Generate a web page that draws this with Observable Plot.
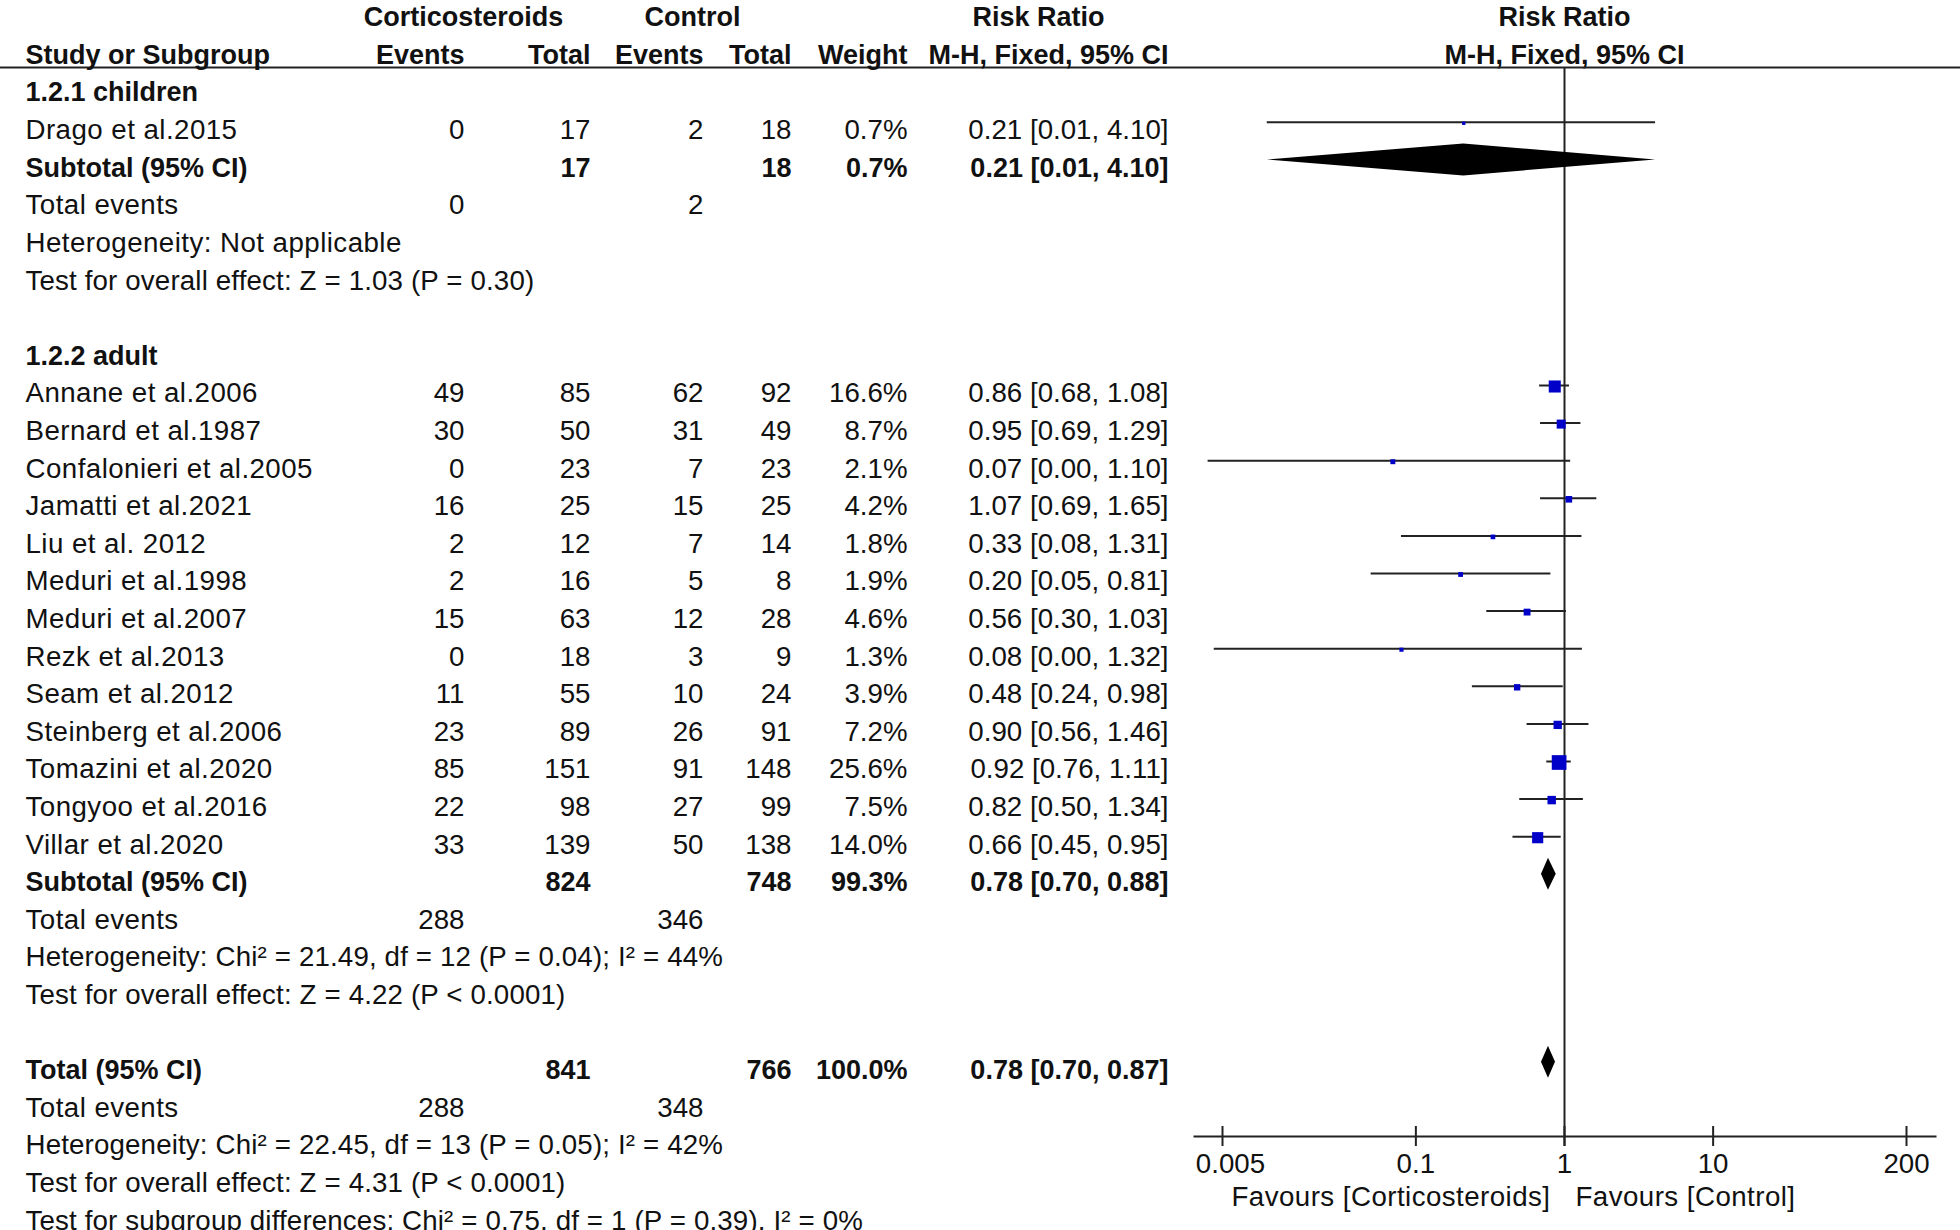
<!DOCTYPE html>
<html>
<head>
<meta charset="utf-8">
<script src="https://cdn.jsdelivr.net/npm/d3@7"></script>
<script src="https://cdn.jsdelivr.net/npm/@observablehq/plot@0.6"></script>
<style>
  body { margin: 0; background: #fff; }
  #chart { position: relative; width: 1960px; height: 1230px; overflow: hidden; background: #fff; }
  #chart svg { position: absolute; left: 0; top: 0; }
</style>
</head>
<body>
<div id="chart"></div>
<script>
// ---------------- data ----------------
const headerTop = ["Corticosteroids", "Control", "Risk Ratio"];
const headerCols = ["Study or Subgroup", "Events", "Total", "Events", "Total", "Weight", "M-H, Fixed, 95% CI"];
const forestHeader = ["Risk Ratio", "M-H, Fixed, 95% CI"];

const groupLabels = ["1.2.1 children", "1.2.2 adult"];
const studyNames = [
  "Drago et al.2015",
  "Annane et al.2006", "Bernard et al.1987", "Confalonieri et al.2005", "Jamatti et al.2021",
  "Liu et al. 2012", "Meduri et al.1998", "Meduri et al.2007", "Rezk et al.2013",
  "Seam et al.2012", "Steinberg et al.2006", "Tomazini et al.2020", "Tongyoo et al.2016",
  "Villar et al.2020"
];
const studyGroup = [0, 1, 1, 1, 1, 1, 1, 1, 1, 1, 1, 1, 1, 1];
const csEvents  = [0, 49, 30, 0, 16, 2, 2, 15, 0, 11, 23, 85, 22, 33];
const csTotal   = [17, 85, 50, 23, 25, 12, 16, 63, 18, 55, 89, 151, 98, 139];
const ctlEvents = [2, 62, 31, 7, 15, 7, 5, 12, 3, 10, 26, 91, 27, 50];
const ctlTotal  = [18, 92, 49, 23, 25, 14, 8, 28, 9, 24, 91, 148, 99, 138];
const weights   = [0.7, 16.6, 8.7, 2.1, 4.2, 1.8, 1.9, 4.6, 1.3, 3.9, 7.2, 25.6, 7.5, 14.0];
const rr        = [0.21, 0.86, 0.95, 0.07, 1.07, 0.33, 0.20, 0.56, 0.08, 0.48, 0.90, 0.92, 0.82, 0.66];
const rrLow     = [0.01, 0.68, 0.69, 0.004, 0.69, 0.08, 0.05, 0.30, 0.0044, 0.24, 0.56, 0.76, 0.50, 0.45];
const rrHigh    = [4.10, 1.08, 1.29, 1.10, 1.65, 1.31, 0.81, 1.03, 1.32, 0.98, 1.46, 1.11, 1.34, 0.95];

const pooledLabels   = ["Subtotal (95% CI)", "Subtotal (95% CI)", "Total (95% CI)"];
const pooledCsTotal  = [17, 824, 841];
const pooledCtlTotal = [18, 748, 766];
const pooledWeight   = [0.7, 99.3, 100.0];
const pooledRR       = [0.21, 0.78, 0.78];
const pooledLow      = [0.01, 0.70, 0.70];
const pooledHigh     = [4.10, 0.88, 0.87];
const totalEventsCs  = [0, 288, 288];
const totalEventsCtl = [2, 346, 348];
const heterogeneity = [
  "Heterogeneity: Not applicable",
  "Heterogeneity: Chi² = 21.49, df = 12 (P = 0.04); I² = 44%",
  "Heterogeneity: Chi² = 22.45, df = 13 (P = 0.05); I² = 42%"
];
const overallEffect = [
  "Test for overall effect: Z = 1.03 (P = 0.30)",
  "Test for overall effect: Z = 4.22 (P < 0.0001)",
  "Test for overall effect: Z = 4.31 (P < 0.0001)"
];
const subgroupTest = "Test for subgroup differences: Chi² = 0.75, df = 1 (P = 0.39), I² = 0%";

const axisTicks = [0.005, 0.1, 1, 10, 200];
const favourLabels = ["Favours [Corticosteroids]", "Favours [Control]"];

// ---------------- layout ----------------
const COL = {label: 25, csE: 464, csT: 590, ctlE: 703, ctlT: 791, wt: 907, ci: 1168};
const HEAD_TOP_X = [463, 692, 1038];
const ROW_H = 37.6, NROWS = 32;
const FONT = "'Liberation Sans', Arial, Helvetica, sans-serif";
const INK = "#111", LINE = "#222";
const FS = 27.7, FSB = 27;

const f2 = d3.format(".2f");
const fW = w => d3.format(".1f")(w) + "%";
const ciText = (r, l, h) => `${f2(r)} [${f2(l)}, ${f2(h)}]`;

// build table rows
const cells = [];
const studyMarks = [];
const pooledMarks = [];
const add = (row, col, text, anchor, bold) => cells.push({row, x: col, text: String(text), anchor, bold});

headerTop.forEach((t, i) => add(0, HEAD_TOP_X[i], t, "middle", true));
const colKeys = ["label", "csE", "csT", "ctlE", "ctlT", "wt", "ci"];
headerCols.forEach((t, i) => add(1, COL[colKeys[i]], t, i === 0 ? "start" : "end", true));

let r = 2;
const pooledRow = (k) => {
  add(r, COL.label, pooledLabels[k], "start", true);
  add(r, COL.csT, pooledCsTotal[k], "end", true);
  add(r, COL.ctlT, pooledCtlTotal[k], "end", true);
  add(r, COL.wt, fW(pooledWeight[k]), "end", true);
  add(r, COL.ci, ciText(pooledRR[k], pooledLow[k], pooledHigh[k]), "end", true);
  pooledMarks.push({row: r, rr: pooledRR[k], lo: pooledLow[k], hi: pooledHigh[k]});
  r++;
  add(r, COL.label, "Total events", "start", false);
  add(r, COL.csE, totalEventsCs[k], "end", false);
  add(r, COL.ctlE, totalEventsCtl[k], "end", false);
  r++;
  add(r, COL.label, heterogeneity[k], "start", false); r++;
  add(r, COL.label, overallEffect[k], "start", false); r++;
};
groupLabels.forEach((g, gi) => {
  add(r, COL.label, g, "start", true); r++;
  studyNames.forEach((name, i) => {
    if (studyGroup[i] !== gi) return;
    add(r, COL.label, name, "start", false);
    add(r, COL.csE, csEvents[i], "end", false);
    add(r, COL.csT, csTotal[i], "end", false);
    add(r, COL.ctlE, ctlEvents[i], "end", false);
    add(r, COL.ctlT, ctlTotal[i], "end", false);
    add(r, COL.wt, fW(weights[i]), "end", false);
    add(r, COL.ci, ciText(rr[i], rrLow[i], rrHigh[i]), "end", false);
    studyMarks.push({row: r, rr: rr[i], lo: rrLow[i], hi: rrHigh[i], w: weights[i]});
    r++;
  });
  pooledRow(gi);
  r++;
});
pooledRow(2);
add(r, COL.label, subgroupTest, "start", false);

// diamond vertices
const DIA_H = 16 / ROW_H;
const diamondPts = pooledMarks.flatMap((p, k) => [
  {id: k, x: p.lo, y1: p.row, y2: p.row},
  {id: k, x: p.rr, y1: p.row - DIA_H, y2: p.row + DIA_H},
  {id: k, x: p.hi, y1: p.row, y2: p.row}
]);

// ---------------- table plot ----------------
const textMarks = [];
for (const a of ["start", "middle", "end"]) {
  for (const b of [false, true]) {
    const d = cells.filter(c => c.anchor === a && c.bold === b);
    if (!d.length) continue;
    textMarks.push(Plot.text(d, {
      x: "x", y: "row", text: "text", textAnchor: a, lineAnchor: "middle",
      fontWeight: b ? "bold" : "normal", fontSize: b ? FSB : FS, fill: INK
    }));
  }
}
const table = Plot.plot({
  width: 1960, height: 1230,
  marginTop: 67, marginLeft: 0, marginRight: 0, marginBottom: 0,
  x: {type: "linear", domain: [0, 1960], range: [0, 1960], axis: null},
  y: {domain: [0, NROWS], range: [17, 17 + ROW_H * NROWS], axis: null},
  style: {background: "transparent", fontFamily: FONT, overflow: "visible"},
  marks: [
    Plot.frame({anchor: "top", stroke: LINE, strokeWidth: 2}),
    ...textMarks
  ]
});

// ---------------- forest plot ----------------
const forest = Plot.plot({
  width: 1960, height: 1230,
  marginTop: 67, marginLeft: 1194, marginRight: 25, marginBottom: 94,
  x: {type: "log", domain: [0.005, 200], range: [1222, 1906], axis: null},
  y: {domain: [0, NROWS], range: [9, 9 + ROW_H * NROWS], axis: null},
  r: {type: "sqrt", domain: [0, 25.6], range: [0.6, 8.3]},
  style: {background: "transparent", fontFamily: FONT, overflow: "visible"},
  marks: [
    Plot.text(forestHeader, {x: () => 1, y: (d, i) => i, text: d => d, dy: 8, lineAnchor: "middle",
      fontWeight: "bold", fontSize: FSB, fill: INK}),
    Plot.ruleX([1], {stroke: LINE, strokeWidth: 2, insetBottom: -10}),
    Plot.frame({anchor: "bottom", stroke: LINE, strokeWidth: 2}),
    Plot.ruleX(axisTicks, {x: d => d, stroke: LINE, strokeWidth: 2,
      insetTop: (1136 - 67) - 10, insetBottom: -10}),
    Plot.text(axisTicks.slice(0, 1), {x: d => d, text: d => String(d), frameAnchor: "bottom",
      lineAnchor: "middle", dy: 28, dx: 8, fontSize: FS, fill: INK}),
    Plot.text(axisTicks.slice(1), {x: d => d, text: d => String(d), frameAnchor: "bottom",
      lineAnchor: "middle", dy: 28, fontSize: FS, fill: INK}),
    Plot.text([favourLabels[0]], {x: () => 1, text: d => d, frameAnchor: "bottom",
      lineAnchor: "middle", textAnchor: "end", dx: -14, dy: 61, fontSize: FS, fill: INK}),
    Plot.text([favourLabels[1]], {x: () => 1, text: d => d, frameAnchor: "bottom",
      lineAnchor: "middle", textAnchor: "start", dx: 11, dy: 61, fontSize: FS, fill: INK}),
    Plot.ruleY(studyMarks, {y: "row", x1: "lo", x2: "hi", stroke: LINE, strokeWidth: 2}),
    Plot.dot(studyMarks, {x: "rr", y: "row", r: "w", symbol: "square", fill: "#0000c8", stroke: "none", dy: 1}),
    Plot.areaY(diamondPts, {x: "x", y1: "y1", y2: "y2", z: "id", fill: "#000", curve: "linear"})
  ]
});

// the reference font is slightly wider on letters than Liberation Sans
const startTexts = cells.filter(c => c.anchor === "start" && !c.bold).map(c => c.text);
const wide = new Set([...startTexts.filter(t => !t.includes("=")), ...favourLabels]);
const slight = new Set(startTexts.filter(t => t.includes("=")));
for (const svg of [table, forest]) {
  const texts = d3.select(svg).selectAll("text");
  texts.filter(function () { return wide.has(this.textContent); }).style("letter-spacing", "0.45px");
  texts.filter(function () { return slight.has(this.textContent); }).style("letter-spacing", "0.15px");
}

const chart = document.getElementById("chart");
chart.appendChild(forest);
chart.appendChild(table);
</script>
</body>
</html>
